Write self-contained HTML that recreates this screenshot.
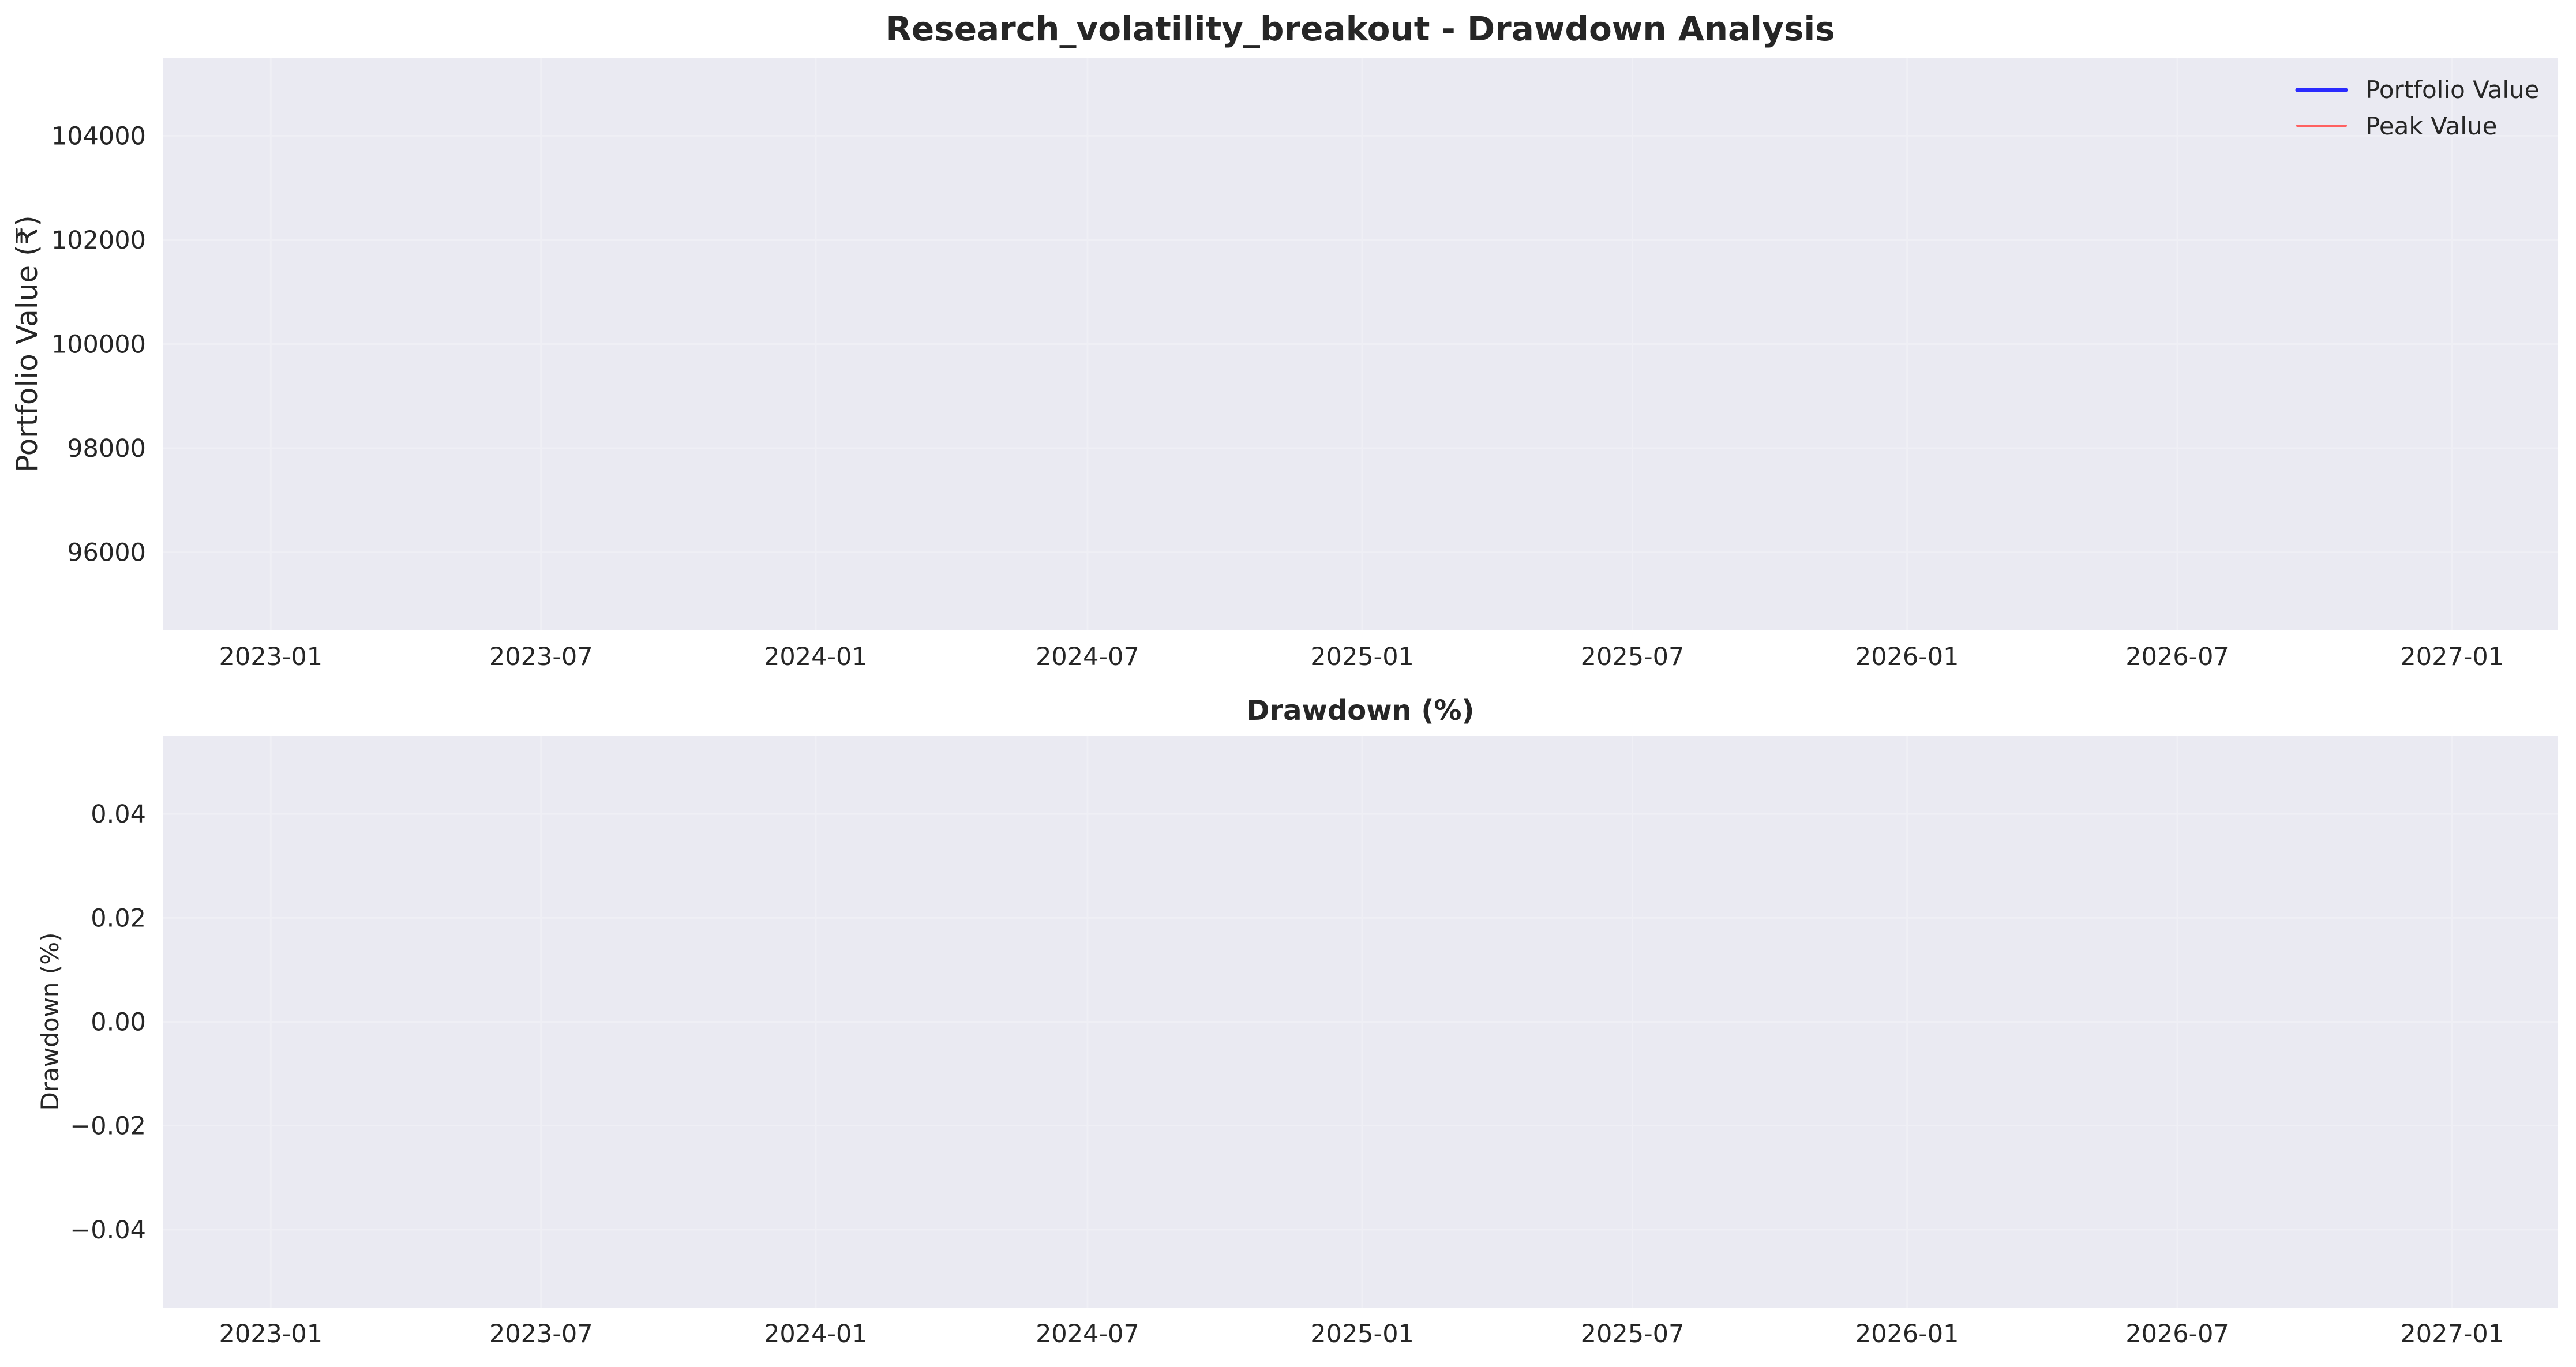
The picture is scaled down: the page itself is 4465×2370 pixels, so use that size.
<!DOCTYPE html>
<html><head><meta charset="utf-8">
<style>
html,body{margin:0;padding:0;background:#fff;}
svg{display:block;font-family:"DejaVu Sans","Liberation Sans",sans-serif;}
</style></head>
<body>
<svg id="chart" width="4465" height="2370" viewBox="0 0 4465 2370" xmlns="http://www.w3.org/2000/svg">
<text x="2358" y="70" text-anchor="middle" font-size="58" font-weight="bold" fill="#262626">Research_volatility_breakout - Drawdown Analysis</text>
<g id="top"></g>
<g id="bot"></g>
</svg>
<script>
// Data (series are empty in the reference — no visible lines)
const xTickLabels = ["2023-01","2023-07","2024-01","2024-07","2025-01","2025-07","2026-01","2026-07","2027-01"];
const xTickDates = ["2023-01-01","2023-07-01","2024-01-01","2024-07-01","2025-01-01","2025-07-01","2026-01-01","2026-07-01","2027-01-01"];
const topTicks = [96000,98000,100000,102000,104000];
const botTicks = [-0.04,-0.02,0.00,0.02,0.04];
const botTickLabels = ["\u22120.04","\u22120.02","0.00","0.02","0.04"];
const dates = [];
const portfolioValues = [];
const peakValues = [];
const drawdownValues = [];

const NS="http://www.w3.org/2000/svg";
const L=283,R=4434;
const xMin=new Date("2022-10-21").getTime(), xMax=new Date("2027-03-13").getTime();
const xs=d=>L+(new Date(d).getTime()-xMin)/(xMax-xMin)*(R-L);
function mk(tag,attrs,parent){const e=document.createElementNS(NS,tag);for(const k in attrs)e.setAttribute(k,attrs[k]);parent.appendChild(e);return e;}

function panel(g,top,bot,yMin,yMax,ticks,labels){
  const ys=v=>bot-(v-yMin)/(yMax-yMin)*(bot-top);
  const bg=mk('rect',{x:L,y:top,width:R-L,height:bot-top,fill:'#eaeaf2'},g);
  
  
  xTickDates.forEach((d,i)=>{
    const x=xs(d);
    const gl=mk('line',{x1:x,x2:x,y1:top,y2:bot,stroke:'#efeff5','stroke-width':3},g);
    
    
    const t=mk('text',{x:x,y:bot+60,'text-anchor':'middle','font-size':43,fill:'#262626'},g);
    
    
    t.textContent=xTickLabels[i];
  });
  ticks.forEach((v,i)=>{
    const y=ys(v);
    const gl=mk('line',{x1:L,x2:R,y1:y,y2:y,stroke:'#efeff5','stroke-width':3},g);
    
    
    const t=mk('text',{x:L-30,y:y+15,'text-anchor':'end','font-size':43,fill:'#262626'},g);
    
    
    t.textContent=labels[i];
  });
  return ys;
}

const gt=document.getElementById('top');
const ysTop=panel(gt,100,1093,94500,105500,topTicks,topTicks.map(String));
const yl1=mk('text',{x:0,y:0,transform:'translate(64,596) rotate(-90)','text-anchor':'middle','font-size':50,fill:'#262626'},gt);


yl1.textContent='Portfolio Value (\u20b9)';
if(dates.length){
  const p1=mk('polyline',{points:dates.map((d,i)=>xs(d)+','+ysTop(portfolioValues[i])).join(' '),fill:'none',stroke:'#0000ff','stroke-width':6,opacity:0.8},gt);
  
  
  const p2=mk('polyline',{points:dates.map((d,i)=>xs(d)+','+ysTop(peakValues[i])).join(' '),fill:'none',stroke:'#ff0000','stroke-width':3,opacity:0.6},gt);
  
  
}
const lg=mk('g',{},gt);


const l1=mk('line',{x1:3982,x2:4066,y1:156,y2:156,stroke:'#2b2bff','stroke-width':7,'stroke-linecap':'round'},lg);


const t1=mk('text',{x:4100,y:170,'font-size':42,fill:'#262626'},lg);


t1.textContent='Portfolio Value';
const l2=mk('line',{x1:3982,x2:4066,y1:218,y2:218,stroke:'#ff6060','stroke-width':4,'stroke-linecap':'round'},lg);


const t2=mk('text',{x:4100,y:233,'font-size':42,fill:'#262626'},lg);


t2.textContent='Peak Value';

const gb=document.getElementById('bot');
const ysBot=panel(gb,1276,2267,-0.055,0.055,botTicks,botTickLabels);
const st=mk('text',{x:2358,y:1248,'text-anchor':'middle','font-size':48,'font-weight':'bold',fill:'#262626'},gb);


st.textContent='Drawdown (%)';
const yl2=mk('text',{x:0,y:0,transform:'translate(101,1771) rotate(-90)','text-anchor':'middle','font-size':42,fill:'#262626'},gb);


yl2.textContent='Drawdown (%)';
if(dates.length){
  const p3=mk('polyline',{points:dates.map((d,i)=>xs(d)+','+ysBot(drawdownValues[i])).join(' '),fill:'none',stroke:'#ff0000','stroke-width':3},gb);
  
  
}
</script>
</body></html>
